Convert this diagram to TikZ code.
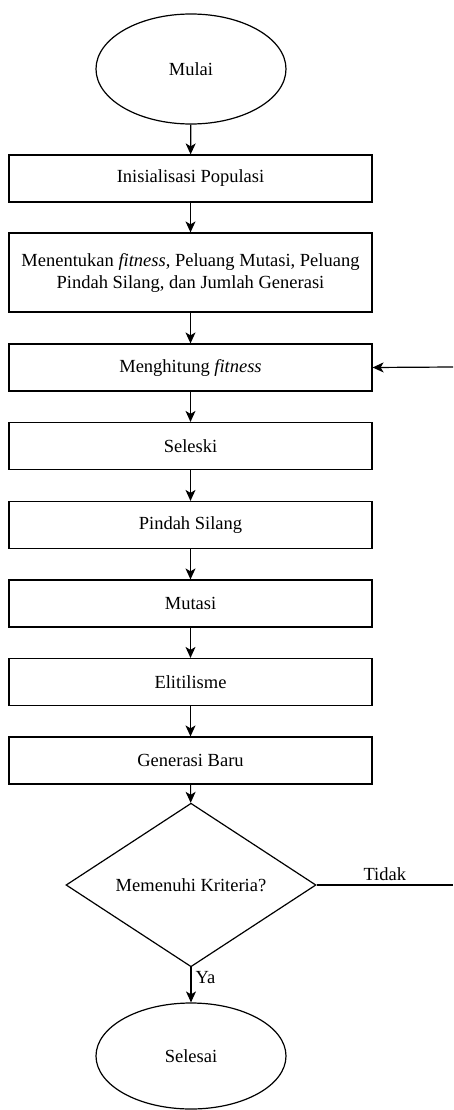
\documentclass[tikz,border=0pt]{standalone}
\usepackage{fontspec}
\setmainfont{Liberation Serif}
\usetikzlibrary{shapes.geometric,arrows.meta}
\begin{document}
\begin{tikzpicture}[x=1pt,y=1pt,
  every node/.style={font=\fontsize{18.5}{22}\selectfont},
  procbox/.style={draw,line width=1.2pt,rectangle,minimum width=363pt,minimum height=47pt,inner sep=0pt,align=center},
  term/.style={draw,line width=1.2pt,ellipse,minimum width=190pt,minimum height=110pt,inner sep=0pt},
  decide/.style={draw,line width=1.2pt,diamond,minimum width=250pt,minimum height=140pt,inner sep=0pt},
  flow/.style={line width=1.2pt,-{Stealth[length=11pt,width=10pt,inset=3pt]}},
  plain/.style={line width=1.2pt}]
\useasboundingbox (0,0) rectangle (453,-1110);
\node[term] (mulai) at (191,-69) {Mulai};
\node[procbox] (init) at (190.5,-178.5) {Inisialisasi Populasi};
\node[procbox,minimum height=79pt] (tentu) at (190.5,-272.5) {Menentukan \textit{fitness}, Peluang Mutasi, Peluang\\Pindah Silang, dan Jumlah Generasi};
\node[procbox] (hitung) at (190.5,-367.5) {Menghitung \textit{fitness}};
\node[procbox] (seleksi) at (190.5,-446) {Seleski};
\node[procbox] (pindah) at (190.5,-525) {Pindah Silang};
\node[procbox] (mutasi) at (190.5,-603.5) {Mutasi};
\node[procbox] (elit) at (190.5,-682) {Elitilisme};
\node[procbox] (gen) at (190.5,-760.5) {Generasi Baru};
\node[decide] (krit) at (191,-885) {Memenuhi Kriteria?};
\node[term,minimum height=106pt] (selesai) at (191,-1056) {Selesai};
\coordinate (loopin) at (453,-367);
\coordinate (loopout) at (453,-885);
\draw[flow] (mulai) -- (init);
\draw[flow] (init) -- (tentu);
\draw[flow] (tentu) -- (hitung);
\draw[flow] (hitung) -- (seleksi);
\draw[flow] (seleksi) -- (pindah);
\draw[flow] (pindah) -- (mutasi);
\draw[flow] (mutasi) -- (elit);
\draw[flow] (elit) -- (gen);
\draw[flow] (gen) -- (krit);
\draw[flow] (krit) -- node[right,pos=0.3,inner sep=4pt] (ya) {Ya} (selesai);
\draw[plain] (krit.east) -- node[above,pos=0.5,inner sep=4pt] (tidak) {Tidak} (loopout);
\draw[flow] (loopin) -- (hitung.east);
\end{tikzpicture}
\end{document}
